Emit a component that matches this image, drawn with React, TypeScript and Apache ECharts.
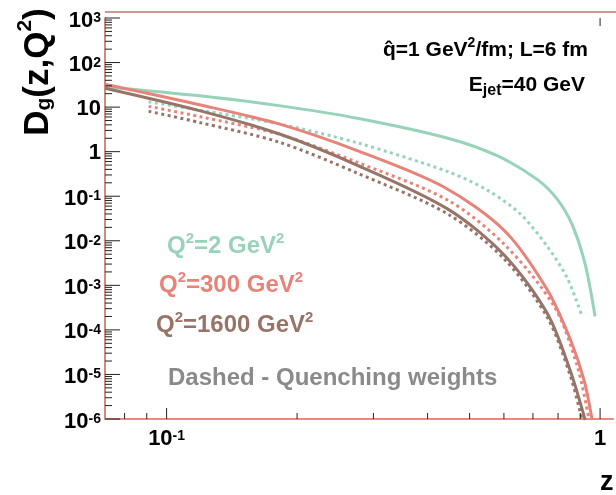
import { useEffect, useRef } from "react";
import * as echarts from "echarts";

// axis ranges
const Z_MIN = 0.0721;
const Z_MAX = 1.071;
const D_MIN = 1e-6;
const D_MAX = 1e3;

// tick positions
const yDecades = [-6, -5, -4, -3, -2, -1, 0, 1, 2, 3];
const minorMultipliers = [2, 3, 4, 5, 6, 7, 8, 9];
const xMajorTicks = [0.1, 1];
const xMinorTicks = [0.08, 0.09, 0.2, 0.3, 0.4, 0.5, 0.6, 0.7, 0.8, 0.9];

// Q^2 = 2 GeV^2
const greenSolidZ = [0.0721, 0.119, 0.1816, 0.2772, 0.4457, 0.5802, 0.717, 0.7968, 0.8626, 0.9239, 0.9739];
const greenSolidD = [28.7, 17.9, 10.8, 5.55, 2.0, 0.8, 0.236, 0.0853, 0.0227, 0.00296, 0.000199];
const greenDotZ = [0.0909, 0.119, 0.1816, 0.2772, 0.4457, 0.5507, 0.6553, 0.7558, 0.8401, 0.9093];
const greenDotD = [13.2, 8.56, 4.2, 1.55, 0.355, 0.135, 0.0397, 0.0074, 0.00145, 0.000199];

// Q^2 = 300 GeV^2
const redSolidZ = [0.0721, 0.119, 0.1816, 0.2772, 0.4341, 0.6022, 0.7558, 0.8535, 0.919, 0.9587];
const redSolidD = [32.5, 11.3, 4.2, 1.03, 0.165, 0.0167, 0.000788, 6.18e-5, 7.28e-6, 9.5e-7];
const redDotZ = [0.0909, 0.119, 0.1816, 0.2772, 0.4457, 0.6022, 0.7843, 0.8855, 0.9437];
const redDotD = [10.4, 6.15, 2.46, 0.561, 0.0811, 0.0082, 0.000332, 1.56e-5, 9.5e-7];

// Q^2 = 1600 GeV^2
const brownSolidZ = [0.0721, 0.119, 0.1816, 0.2772, 0.4457, 0.6022, 0.7558, 0.8535, 0.9239];
const brownSolidD = [26.5, 8.34, 2.52, 0.482, 0.0513, 0.00468, 0.000232, 1.21e-5, 9.5e-7];
const brownDotZ = [0.0909, 0.119, 0.1816, 0.2772, 0.4457, 0.6022, 0.7558, 0.8535, 0.9093];
const brownDotD = [8.05, 4.53, 1.64, 0.321, 0.0397, 0.00382, 0.000189, 9.39e-6, 9.5e-7];

const GREEN = "#97d3b9";
const RED = "#e8837a";
const BROWN = "#967468";
const GREY = "#8a8a8a";
const FONT = "Liberation Sans, Arial, Helvetica, sans-serif";

const zip = (a: number[], b: number[]) => a.map((v, i) => [v, b[i]]);

function decadeLabel(v: number, plainStyle: string) {
  const l = Math.log10(v);
  const e = Math.round(l);
  if (Math.abs(l - e) > 1e-6) return "";
  if (e === 0) return `{${plainStyle}|1}`;
  if (e === 1) return `{${plainStyle}|10}`;
  return `{e|10}{s|${e}}`;
}

const richBase = {
  e: { fontSize: 22, fontWeight: "bold", fontFamily: FONT, color: "#000", lineHeight: 24, verticalAlign: "bottom", padding: [8, 0, 0, 0] },
  s: { fontSize: 14, fontWeight: "bold", fontFamily: FONT, color: "#000", lineHeight: 15, verticalAlign: "top", padding: [4, 0, 0, 0] },
};

export default function App() {
  const ref = useRef<HTMLDivElement>(null);
  useEffect(() => {
    if (!ref.current) return;
    const chart = echarts.init(ref.current, undefined, { renderer: "svg" });

    const tickData: number[][] = [];
    yDecades.forEach((k) => {
      tickData.push([Z_MIN, Math.pow(10, k), 15, 0]);
      if (k < 3) minorMultipliers.forEach((m) => tickData.push([Z_MIN, m * Math.pow(10, k), 7, 0]));
    });
    xMajorTicks.forEach((v) => tickData.push([v, D_MIN, 0, -11]));
    xMinorTicks.forEach((v) => tickData.push([v, D_MIN, 0, -6]));
    tickData.push([1, D_MAX, 0, 8]);

    const curve = (name: string, z: number[], d: number[], color: string, dotted: boolean) => ({
      name,
      type: "line",
      data: zip(z, d),
      showSymbol: false,
      smooth: 0.3,
      clip: true,
      lineStyle: dotted ? { color, width: 3, type: [3, 3.5], cap: "butt" } : { color, width: 3 },
      z: 3,
    });

    chart.setOption({
      animation: false,
      grid: { left: 105, top: 12, right: 0, bottom: 76, containLabel: false },
      xAxis: {
        type: "log",
        logBase: 10,
        min: Z_MIN,
        max: Z_MAX,
        axisLine: { show: true, lineStyle: { color: "#ea8a7c", width: 2 } },
        axisTick: { show: false },
        splitLine: { show: false },
        axisLabel: {
          margin: 5,
          formatter: (v: number) => decadeLabel(v, "px"),
          rich: {
            ...richBase,
            px: { fontSize: 22, fontWeight: "bold", fontFamily: FONT, color: "#000", lineHeight: 24, verticalAlign: "bottom", padding: [8, 0, 0, 0] },
          },
        },
      },
      yAxis: {
        type: "log",
        logBase: 10,
        min: D_MIN,
        max: D_MAX,
        axisLine: { show: true, lineStyle: { color: "#c0665a", width: 1.5 } },
        axisTick: { show: false },
        splitLine: { show: false },
        axisLabel: {
          margin: 4,
          formatter: (v: number) => decadeLabel(v, "py"),
          rich: {
            ...richBase,
            py: { fontSize: 22, fontWeight: "bold", fontFamily: FONT, color: "#000", lineHeight: 24 },
          },
        },
      },
      series: [
        {
          type: "custom",
          silent: true,
          clip: false,
          z: 5,
          data: tickData,
          encode: { x: 0, y: 1 },
          renderItem: (_p: any, api: any) => {
            const pt = api.coord([api.value(0), api.value(1)]);
            return {
              type: "line",
              shape: { x1: pt[0], y1: pt[1], x2: pt[0] + api.value(2), y2: pt[1] + api.value(3) },
              style: { stroke: "#222", lineWidth: 1 },
            };
          },
        },
        curve("Q2=2", greenSolidZ, greenSolidD, GREEN, false),
        curve("Q2=2 QW", greenDotZ, greenDotD, GREEN, true),
        curve("Q2=300", redSolidZ, redSolidD, RED, false),
        curve("Q2=300 QW", redDotZ, redDotD, RED, true),
        curve("Q2=1600", brownSolidZ, brownSolidD, BROWN, false),
        curve("Q2=1600 QW", brownDotZ, brownDotD, BROWN, true),
      ],
      graphic: [
        { type: "line", shape: { x1: 105, y1: 12, x2: 616, y2: 12 }, style: { stroke: "#b8766a", lineWidth: 1.5 }, z: 10 },
        {
          type: "text",
          x: 33,
          y: 72,
          rotation: Math.PI / 2,
          style: {
            text: "{a|D}{b|g}{a|(z,Q}{c|2}{a|)}",
            align: "center",
            verticalAlign: "middle",
            rich: {
              a: { fontSize: 35, fontWeight: "bold", fontFamily: FONT, fill: "#000", lineHeight: 40, verticalAlign: "bottom" },
              b: { fontSize: 21, fontWeight: "bold", fontFamily: FONT, fill: "#000", lineHeight: 22, verticalAlign: "bottom" },
              c: { fontSize: 21, fontWeight: "bold", fontFamily: FONT, fill: "#000", lineHeight: 22, verticalAlign: "top" },
            },
          },
        },
        {
          type: "text",
          x: 588,
          y: 47,
          style: {
            text: "{a|q\u0302=1 GeV}{s|2}{a|/fm; L=6 fm}",
            align: "right",
            verticalAlign: "middle",
            rich: {
              a: { fontSize: 21, fontWeight: "bold", fontFamily: FONT, fill: "#000", lineHeight: 24, verticalAlign: "bottom" },
              s: { fontSize: 14, fontWeight: "bold", fontFamily: FONT, fill: "#000", lineHeight: 14, verticalAlign: "top" },
            },
          },
        },
        {
          type: "text",
          x: 585,
          y: 85,
          style: {
            text: "{a|E}{j|jet}{a|=40 GeV}",
            align: "right",
            verticalAlign: "middle",
            rich: {
              a: { fontSize: 21, fontWeight: "bold", fontFamily: FONT, fill: "#000", lineHeight: 24, verticalAlign: "top" },
              j: { fontSize: 16, fontWeight: "bold", fontFamily: FONT, fill: "#000", lineHeight: 16, verticalAlign: "bottom" },
            },
          },
        },
        ...[
          { t: "2", x: 167, y: 243, c: GREEN },
          { t: "300", x: 159, y: 282, c: RED },
          { t: "1600", x: 156, y: 322, c: BROWN },
        ].map((o) => ({
          type: "text",
          x: o.x,
          y: o.y,
          style: {
            text: `{a|Q}{s|2}{a|=${o.t} GeV}{s|2}`,
            align: "left",
            verticalAlign: "middle",
            rich: {
              a: { fontSize: 24, fontWeight: "bold", fontFamily: FONT, fill: o.c, lineHeight: 27, verticalAlign: "bottom" },
              s: { fontSize: 15, fontWeight: "bold", fontFamily: FONT, fill: o.c, lineHeight: 15, verticalAlign: "top" },
            },
          },
        })),
        {
          type: "text",
          x: 168,
          y: 376,
          style: {
            text: "Dashed - Quenching weights",
            align: "left",
            verticalAlign: "middle",
            font: `bold 24px ${FONT}`,
            fill: GREY,
          },
        },
        {
          type: "text",
          x: 600,
          y: 481,
          style: { text: "z", align: "left", verticalAlign: "middle", font: `bold 27px ${FONT}`, fill: "#000" },
        },
      ],
    });
    return () => chart.dispose();
  }, []);
  return <div ref={ref} style={{ position: "fixed", left: 0, top: 0, width: 616, height: 495 }} />;
}
